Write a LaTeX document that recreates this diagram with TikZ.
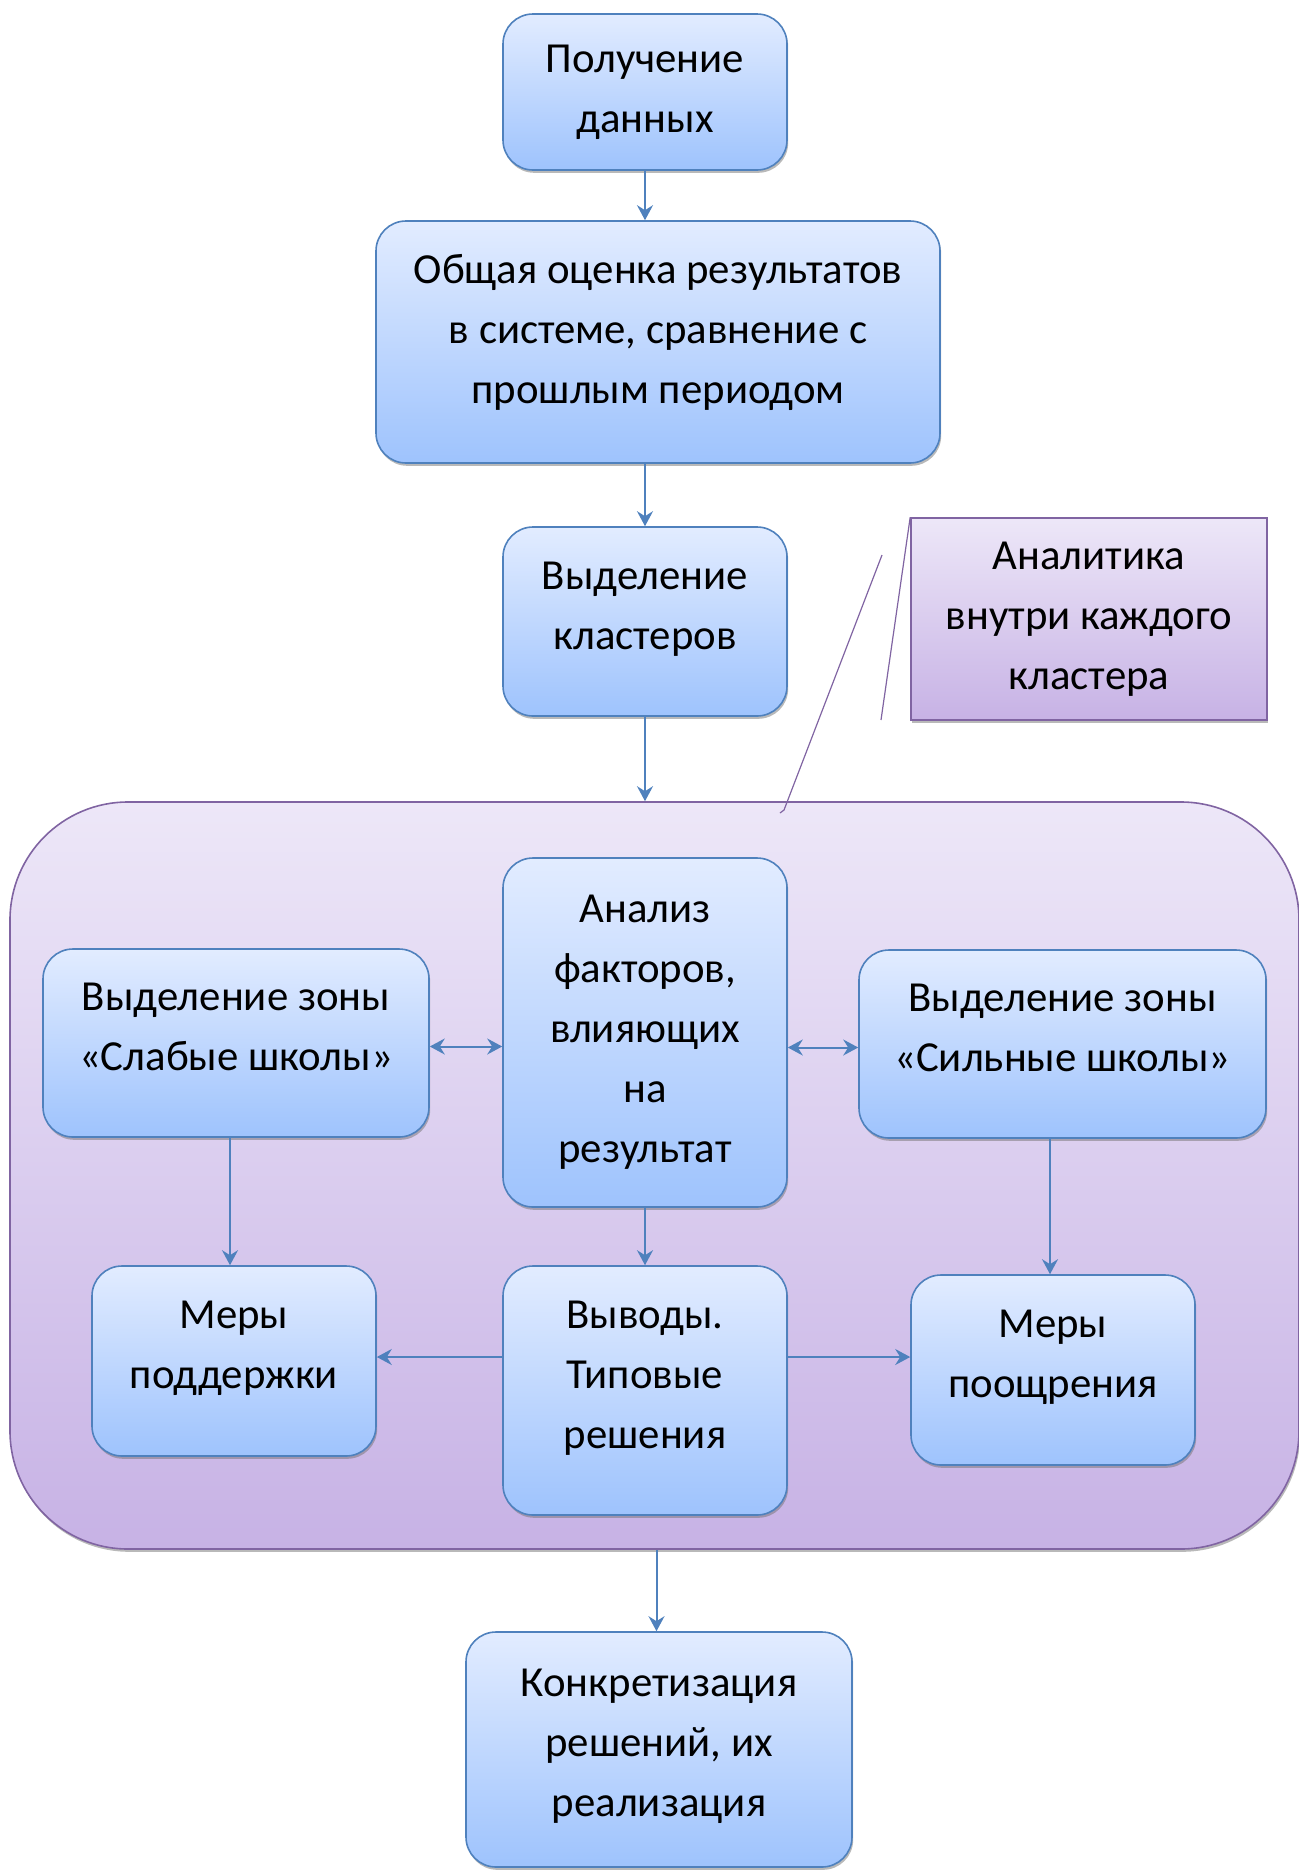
\documentclass[tikz,border=0pt]{standalone}
\usepackage{fontspec}
\setmainfont{Carlito}
\usepackage{tikz}
\usetikzlibrary{shadows,calc,positioning}
\usetikzlibrary{arrows.meta}
\tikzset{>={Stealth[length=7.5pt,width=8pt,inset=2.5pt]}}
\definecolor{office_blue}{RGB}{79, 129, 189}
\definecolor{office_purple}{RGB}{128, 100, 162}
\definecolor{blue_top}{RGB}{226, 236, 255}
\definecolor{blue_bottom}{RGB}{158, 195, 253}
\definecolor{purple_top}{RGB}{237, 231, 248}
\definecolor{purple_bottom}{RGB}{199, 178, 229}

\begin{document}
\begin{tikzpicture}[x=0.5pt, y=-0.5pt,
					font=\fontsize{21.4}{30}\selectfont,
					box/.style={draw=office_blue, line width=0.8pt, rectangle, rounded corners=15pt, align=center,
						text depth=16pt,
						top color=blue_top, bottom color=blue_bottom,
						drop shadow={shadow xshift=0.6pt, shadow yshift=-1.4pt, fill=black!55, opacity=0.5}},
					zonebox/.style={draw=office_purple, line width=0.8pt, rectangle, rounded corners=59pt,
						top color=purple_top, bottom color=purple_bottom,
						drop shadow={shadow xshift=0.6pt, shadow yshift=-1.4pt, fill=black!55, opacity=0.5}},
					notebox/.style={draw=office_purple, line width=0.8pt, rectangle, align=center,
						top color=purple_top, bottom color=purple_bottom,
						drop shadow={shadow xshift=0.6pt, shadow yshift=-1.4pt, fill=black!55, opacity=0.5}},
					link/.style={draw=office_blue, line width=1pt},
					callout/.style={draw=office_purple, line width=0.6pt},
				]
				\useasboundingbox (0,0) rectangle (1298,1870);

				\node[box, text depth=3.5pt, minimum width=142pt, minimum height=78pt] (get) at (645,92) {Получение\\данных};
				\node[box, text depth=13pt, minimum width=282pt, minimum height=121pt] (total) at (658,342) {Общая оценка результатов\\в системе, сравнение с\\прошлым периодом};
				\node[box, minimum width=142pt, minimum height=94.5pt] (clusters) at (645,621.5) {Выделение\\кластеров};

				% Zone of cluster analytics
				\node[zonebox, minimum width=644.5pt, minimum height=373.5pt] (zone) at (654.5,1175.5) {};
				\node[box, text depth=4pt, minimum width=142pt, minimum height=174.5pt] (factors) at (645,1032.5) {Анализ\\факторов,\\влияющих\\на\\результат};
				\node[box, minimum width=193pt, minimum height=94pt] (weak) at (236,1043) {Выделение зоны\\«Слабые школы»};
				\node[box, minimum width=203.5pt, minimum height=94pt] (strong) at (1062.5,1044) {Выделение зоны\\«Сильные школы»};
				\node[box, minimum width=142pt, minimum height=95pt] (support) at (234,1361) {Меры\\поддержки};
				\node[box, minimum width=142pt, minimum height=124.5pt] (concl) at (645,1390.5) {Выводы.\\Типовые\\решения};
				\node[box, minimum width=142pt, minimum height=95pt] (encourage) at (1053,1370) {Меры\\поощрения};

				\node[box, text depth=7pt, minimum width=193pt, minimum height=117.5pt] (final) at (659,1749.5) {Конкретизация\\решений, их\\реализация};

				% Callout
				\node[notebox, minimum width=178pt, minimum height=101pt] (note) at (1089,619) {Аналитика\\внутри каждого\\кластера};
				\coordinate (barEnd) at (881,720);
				\coordinate (leadStart) at (882,555);
				\coordinate (leadEnd) at (784,810);
				\draw[callout] (note.north west) -- (barEnd);
				\draw[callout] (leadStart) -- (leadEnd) -- ++(-4,3);

				\draw[link,->] (get.south) -- (get.south |- total.north);
				\draw[link,->] (clusters.north |- total.south) -- (clusters.north);
				\draw[link,->] (clusters.south) -- (clusters.south |- zone.north);
				\draw[link,<->] ([yshift=-1.75pt]weak.east) -- ([yshift=-1.75pt]weak.east -| factors.west);
				\draw[link,<->] ([yshift=-1.75pt]factors.east |- strong.west) -- ([yshift=-1.75pt]strong.west);
				\draw[link,->] ([xshift=-3pt]weak.south) -- ([xshift=-3pt]weak.south |- support.north);
				\draw[link,->] ([xshift=-1.5pt]encourage.north |- strong.south) -- ([xshift=-1.5pt]encourage.north);
				\draw[link,->] (factors.south) -- (concl.north);
				\draw[link,->] ([yshift=2pt]concl.west |- support.east) -- ([yshift=2pt]support.east);
				\draw[link,->] ([yshift=2pt]concl.east |- support.east) -- ([yshift=2pt]encourage.west |- support.east);
				\draw[link,->] ([xshift=1pt]zone.south) -- ([xshift=1pt]zone.south |- final.north);

			\end{tikzpicture}
\end{document}
